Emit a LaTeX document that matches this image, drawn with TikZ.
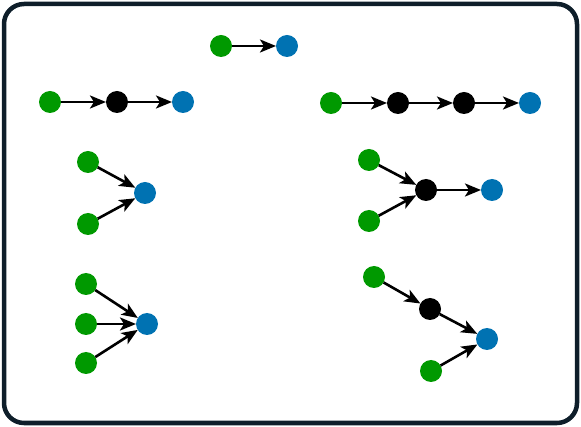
\documentclass[tikz,border=0pt]{standalone}
\usetikzlibrary{arrows.meta}
\definecolor{gr}{RGB}{0,153,0}
\definecolor{bl}{RGB}{0,114,178}
\definecolor{framecol}{RGB}{14,30,42}
\tikzset{
  dot/.style={circle,minimum size=22pt,inner sep=0pt,outer sep=0pt},
  g/.style={dot,fill=gr},
  b/.style={dot,fill=bl},
  k/.style={dot,fill=black},
  arr/.style={draw=black,line width=2.6pt,-{Stealth[length=16pt,width=13pt,inset=4pt]}}
}
\begin{document}
\begin{tikzpicture}[x=1pt,y=-1pt]
\useasboundingbox (0,0) rectangle (581,427);
\draw[framecol,line width=4.5pt,rounded corners=20pt] (4,4) rectangle (577,423);
% top
\node[g] (a1) at (221,46) {};
\node[b] (a2) at (287,46) {};
\draw[arr] (a1) -- (a2);
% row 2 left
\node[g] (b1) at (50,102) {};
\node[k] (b2) at (117,102) {};
\node[b] (b3) at (183,102) {};
\draw[arr] (b1) -- (b2);
\draw[arr] (b2) -- (b3);
% row 2 right
\node[g] (c1) at (331,103) {};
\node[k] (c2) at (398,103) {};
\node[k] (c3) at (464,103) {};
\node[b] (c4) at (530,103) {};
\draw[arr] (c1) -- (c2);
\draw[arr] (c2) -- (c3);
\draw[arr] (c3) -- (c4);
% group 3 left
\node[g] (d1) at (88,162) {};
\node[g] (d2) at (88,224) {};
\node[b] (d3) at (145,193) {};
\draw[arr] (d1) -- (d3);
\draw[arr] (d2) -- (d3);
% group 3 right
\node[g] (e1) at (369,160) {};
\node[g] (e2) at (369,221) {};
\node[k] (e3) at (426,190) {};
\node[b] (e4) at (492,190) {};
\draw[arr] (e1) -- (e3);
\draw[arr] (e2) -- (e3);
\draw[arr] (e3) -- (e4);
% group 4 left
\node[g] (f1) at (86,284) {};
\node[g] (f2) at (86,324) {};
\node[g] (f3) at (86,363) {};
\node[b] (f4) at (147,324) {};
\draw[arr] (f1) -- (f4);
\draw[arr] (f2) -- (f4);
\draw[arr] (f3) -- (f4);
% group 4 right
\node[g] (h1) at (374,277) {};
\node[k] (h2) at (430,309) {};
\node[b] (h3) at (487,339) {};
\node[g] (h4) at (431,371) {};
\draw[arr] (h1) -- (h2);
\draw[arr] (h2) -- (h3);
\draw[arr] (h4) -- (h3);
\end{tikzpicture}
\end{document}
